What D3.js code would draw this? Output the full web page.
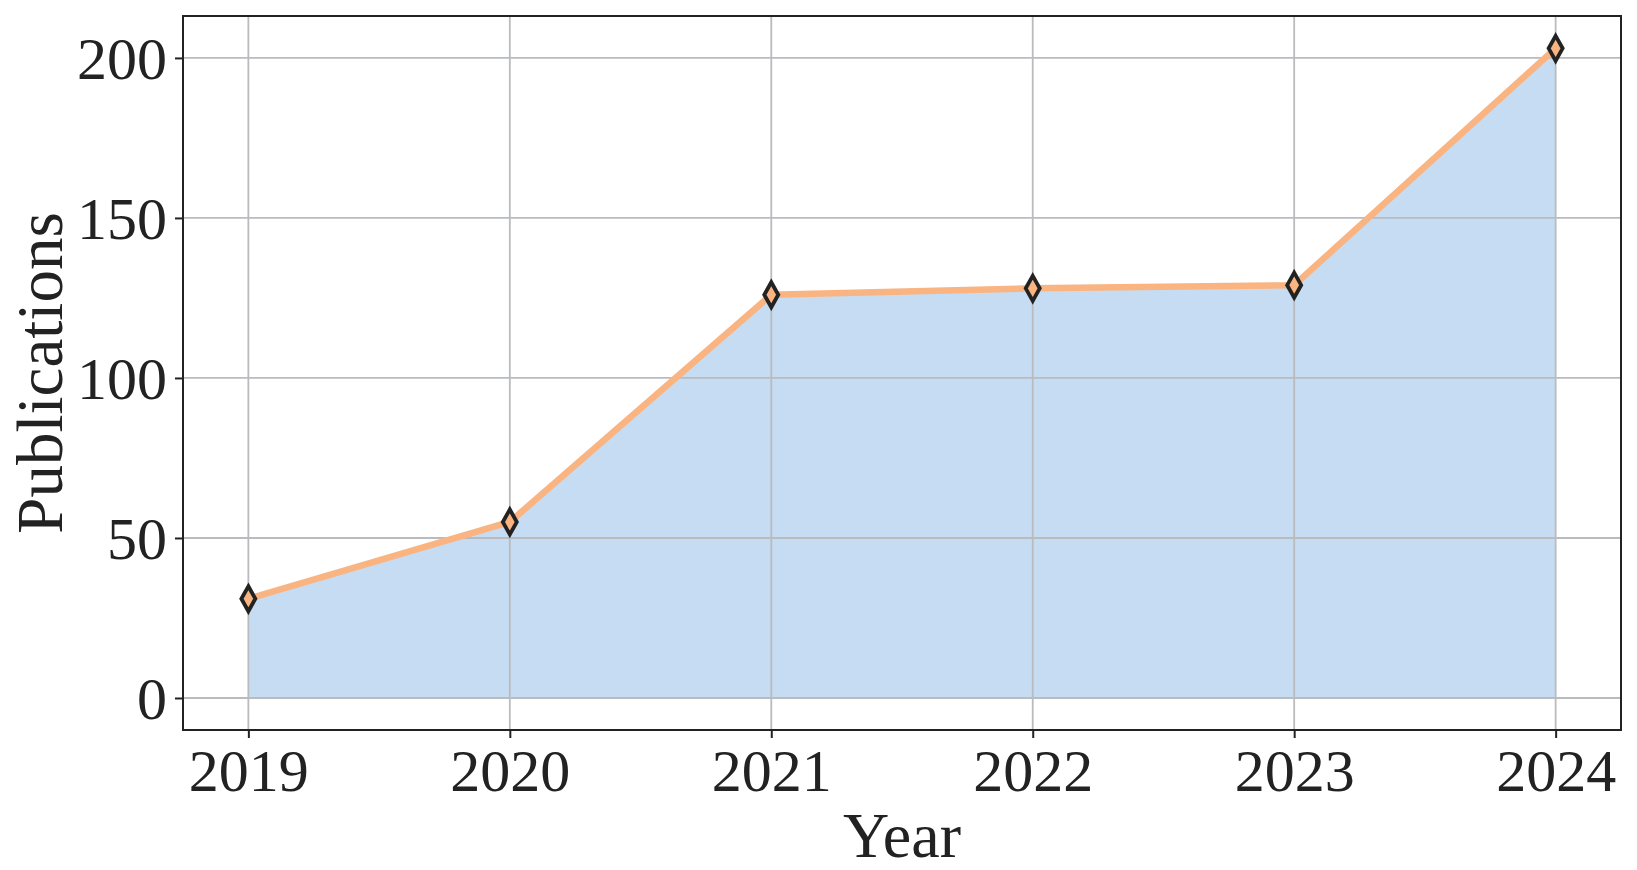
<!DOCTYPE html>
<html>
<head>
<meta charset="utf-8">
<title>Publications per year</title>
<script src="https://cdn.jsdelivr.net/npm/d3@7"></script>
<style>
  body { margin: 0; background: #fff; }
  text { font-family: 'Liberation Serif', 'DejaVu Serif', serif; fill: #222; }
</style>
</head>
<body>
<div id="vis"></div>
<script>
// data
let years = [2019, 2020, 2021, 2022, 2023, 2024];
let publications = [31, 55, 126, 128, 129, 203];
let yTicks = [0, 50, 100, 150, 200];

// Constants for sizing
let width = 1637;
let height = 870;
let margin = { top: 16, right: 16, bottom: 140, left: 183 };
let innerW = width - margin.left - margin.right;
let innerH = height - margin.top - margin.bottom;

let lineColor = '#f9b482';
let fillColor = '#c6dcf2';
let gridColor = '#b9bbbf';
let inkColor = '#222222';

let svg = d3.select('#vis')
  .append('svg')
  .attr('width', width)
  .attr('height', height);

let g = svg.append('g')
  .attr('transform', 'translate(' + margin.left + ',' + margin.top + ')');

// scales padded the way matplotlib does it
let x = d3.scaleLinear()
  .domain([2018.75, 2024.25])
  .range([0, innerW]);

let y = d3.scaleLinear()
  .domain([-10, 213.1])
  .range([innerH, 0]);

let points = years.map(function (yr, i) {
  return { year: yr, value: publications[i] };
});

// filled area under the line
let area = d3.area()
  .x(function (d) { return x(d.year); })
  .y0(y(0))
  .y1(function (d) { return y(d.value); });

g.append('path')
  .datum(points)
  .attr('d', area)
  .attr('fill', fillColor);

// grid on top of the fill
g.append('g')
  .attr('class', 'grid')
  .selectAll('line.gx')
  .data(years)
  .enter().append('line')
  .attr('x1', function (d) { return x(d); })
  .attr('x2', function (d) { return x(d); })
  .attr('y1', 0)
  .attr('y2', innerH)
  .attr('stroke', gridColor)
  .attr('stroke-width', 1.8);

g.append('g')
  .attr('class', 'grid')
  .selectAll('line.gy')
  .data(yTicks)
  .enter().append('line')
  .attr('x1', 0)
  .attr('x2', innerW)
  .attr('y1', function (d) { return y(d); })
  .attr('y2', function (d) { return y(d); })
  .attr('stroke', gridColor)
  .attr('stroke-width', 1.8);

// the line itself
let line = d3.line()
  .x(function (d) { return x(d.year); })
  .y(function (d) { return y(d.value); });

g.append('path')
  .datum(points)
  .attr('d', line)
  .attr('fill', 'none')
  .attr('stroke', lineColor)
  .attr('stroke-width', 6.5)
  .attr('stroke-linejoin', 'round');

// thin diamond markers
let diamond = 'M0,-12.5L7,0L0,12.5L-7,0Z';
g.selectAll('.marker')
  .data(points)
  .enter().append('path')
  .attr('class', 'marker')
  .attr('d', diamond)
  .attr('transform', function (d) {
    return 'translate(' + x(d.year) + ',' + y(d.value) + ')';
  })
  .attr('fill', lineColor)
  .attr('stroke', inkColor)
  .attr('stroke-width', 3.8)
  .attr('stroke-linejoin', 'miter');

// axes
let xAxis = d3.axisBottom(x)
  .tickValues(years)
  .tickFormat(d3.format('d'))
  .tickSize(8)
  .tickPadding(10);

let yAxis = d3.axisLeft(y)
  .tickValues(yTicks)
  .tickSize(8)
  .tickPadding(8);

let gx = g.append('g')
  .attr('transform', 'translate(0,' + innerH + ')')
  .call(xAxis);

let gy = g.append('g')
  .call(yAxis);

[gx, gy].forEach(function (ax) {
  ax.select('.domain').remove();
  ax.selectAll('.tick line').attr('stroke', inkColor).attr('stroke-width', 2);
  ax.selectAll('.tick text')
    .attr('fill', inkColor)
    .style('font-family', "'Liberation Serif', serif")
    .style('font-size', '60px');
});

gx.selectAll('.tick text').attr('dy', '0.71em');
gy.selectAll('.tick text').attr('dy', '0.34em');

// frame
g.append('rect')
  .attr('x', 0)
  .attr('y', 0)
  .attr('width', innerW)
  .attr('height', innerH)
  .attr('fill', 'none')
  .attr('stroke', inkColor)
  .attr('stroke-width', 2);

// axis labels
svg.append('text')
  .attr('x', margin.left + innerW / 2)
  .attr('y', 857)
  .attr('text-anchor', 'middle')
  .style('font-size', '64px')
  .text('Year');

svg.append('text')
  .attr('transform', 'translate(62,' + (margin.top + innerH / 2) + ') rotate(-90)')
  .attr('text-anchor', 'middle')
  .style('font-size', '65px')
  .text('Publications');
</script>
</body>
</html>
